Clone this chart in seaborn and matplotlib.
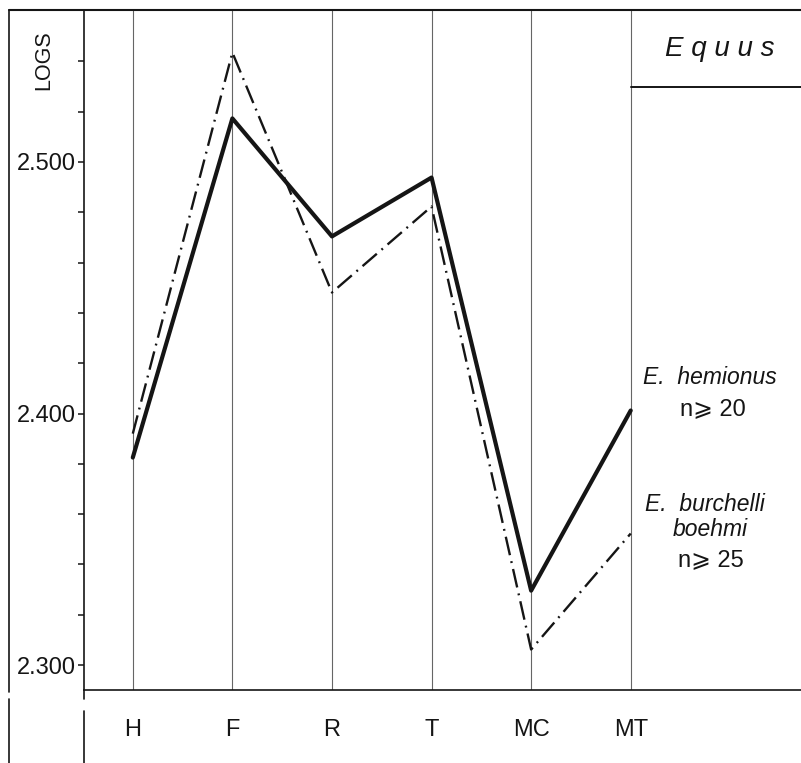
import pandas as pd
import seaborn as sns
import matplotlib.pyplot as plt
from matplotlib.lines import Line2D

# data (log10 values)
bones = ['H', 'F', 'R', 'T', 'MC', 'MT']
hemionus = [2.3825, 2.5173, 2.4704, 2.4938, 2.3296, 2.4012]
burchelli = [2.3920, 2.5435, 2.4481, 2.4823, 2.3062, 2.3523]
ytick_vals = [2.300, 2.400, 2.500]
ytick_labels = ['2.300', '2.400', '2.500']
minor_vals = [2.32, 2.34, 2.36, 2.38, 2.42, 2.44, 2.46, 2.48, 2.52, 2.54]

df = pd.concat([
    pd.DataFrame({'bone': bones, 'log': hemionus, 'species': 'E. hemionus'}),
    pd.DataFrame({'bone': bones, 'log': burchelli, 'species': 'E. burchelli boehmi'}),
])

sns.set_style('white')
plt.rcParams['font.family'] = ['Liberation Sans', 'DejaVu Sans']

W, H = 801, 763
fig = plt.figure(figsize=(W / 100, H / 100), dpi=100)
ax = fig.add_axes([84 / W, (H - 690) / H, (W - 84) / W, 680 / H])

ink = '#151515'
for i in range(len(bones)):
    ax.axvline(i, color='0.4', lw=0.8, zorder=0)

sns.lineplot(data=df, x='bone', y='log', hue='species', style='species', size='species',
             palette={'E. hemionus': ink, 'E. burchelli boehmi': ink},
             dashes={'E. hemionus': '', 'E. burchelli boehmi': (8, 2.6, 0.8, 2.6)},
             sizes={'E. hemionus': 3.0, 'E. burchelli boehmi': 1.7},
             legend=False, sort=False, ax=ax)

ax.set_xlim(-0.49, 6.71)
ax.set_ylim(2.2901, 2.5604)
ax.set_xlabel('')
ax.set_ylabel('')

ax.set_yticks(ytick_vals)
ax.set_yticklabels(ytick_labels, fontsize=17, color=ink)
ax.set_yticks(minor_vals, minor=True)
ax.tick_params(axis='y', which='both', direction='out', length=4.5, width=1.1,
               color=ink, pad=1, left=True)
ax.tick_params(axis='x', length=0, pad=21, labelsize=17, labelcolor=ink)

for side in ['top', 'right']:
    ax.spines[side].set_visible(False)
for side in ['left', 'bottom']:
    ax.spines[side].set_color(ink)
    ax.spines[side].set_linewidth(1.2)

# frame lines outside the axes
def px_line(x0, y0, x1, y1, lw=1.2):
    fig.add_artist(Line2D([x0 / W, x1 / W], [1 - y0 / H, 1 - y1 / H],
                          color=ink, lw=lw, transform=fig.transFigure))

px_line(9, 10, W, 10, lw=1.5)
px_line(9, 10, 9, 692)
px_line(9, 699, 9, H)
px_line(84, 690, 84, 699)
px_line(84, 711, 84, H)
px_line(631, 87, W, 87, lw=1.4)

fig.text(44 / W, 1 - 60 / H, 'LOGS', rotation=90, ha='center', va='center',
         fontsize=15.5, color=ink)
fig.text(720 / W, 1 - 49 / H, 'E q u u s', style='italic', ha='center', va='center',
         fontsize=20, color=ink)
fig.text(643 / W, 1 - 377 / H, 'E.  hemionus', style='italic', ha='left', va='center',
         fontsize=16.5, color=ink)
fig.text(680 / W, 1 - 409 / H, 'n⩾ 20', ha='left', va='center', fontsize=17, color=ink)
fig.text(645 / W, 1 - 505 / H, 'E.  burchelli', style='italic', ha='left', va='center',
         fontsize=16.5, color=ink)
fig.text(673 / W, 1 - 529 / H, 'boehmi', style='italic', ha='left', va='center',
         fontsize=16.5, color=ink)
fig.text(678 / W, 1 - 560 / H, 'n⩾ 25', ha='left', va='center', fontsize=17, color=ink)

fig.savefig('out.png', dpi=100)
